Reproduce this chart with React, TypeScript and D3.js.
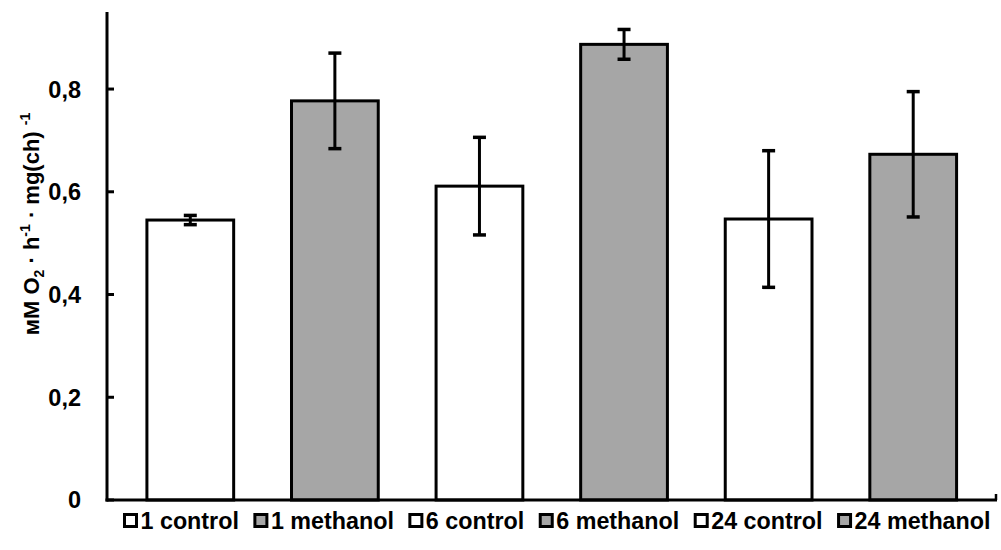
import React, { useEffect, useRef } from "react";
import * as d3 from "d3";

// values
const groups = ["1 control", "1 methanol", "6 control", "6 methanol", "24 control", "24 methanol"];
const rates = [0.545, 0.777, 0.611, 0.887, 0.547, 0.673];
const errors = [0.009, 0.093, 0.095, 0.029, 0.133, 0.122];
const fills = ["#ffffff", "#a6a6a6", "#ffffff", "#a6a6a6", "#ffffff", "#a6a6a6"];
const yTicks = [0, 0.2, 0.4, 0.6, 0.8];

const W = 1001, H = 550;

export default function App() {
  const ref = useRef<SVGSVGElement>(null);

  useEffect(() => {
    const svg = d3.select(ref.current);
    svg.selectAll("*").remove();

    const left = 107, right = 997, top = 12, bottom = 500;
    const font = "'Liberation Sans', Arial, sans-serif";

    const x = d3.scaleBand<string>().domain(groups).range([118, 985.5]).paddingInner(0.4).paddingOuter(0.2);
    const y = d3.scaleLinear().domain([0, 0.95]).range([bottom, top]);

    const g = svg.append("g");

    // bars
    g.selectAll("rect.bar")
      .data(groups)
      .join("rect")
      .attr("class", "bar")
      .attr("x", d => x(d)!)
      .attr("y", (d, i) => y(rates[i]))
      .attr("width", x.bandwidth())
      .attr("height", (d, i) => bottom - y(rates[i]))
      .attr("fill", (d, i) => fills[i])
      .attr("stroke", "#000")
      .attr("stroke-width", 3);

    // error bars
    const eb = g.selectAll("g.err").data(groups).join("g").attr("class", "err");
    const cx = (d: string) => x(d)! + x.bandwidth() / 2;
    eb.append("line")
      .attr("x1", cx).attr("x2", cx)
      .attr("y1", (d, i) => y(rates[i] + errors[i]))
      .attr("y2", (d, i) => y(rates[i] - errors[i]))
      .attr("stroke", "#000").attr("stroke-width", 3);
    [1, -1].forEach(s => {
      eb.append("line")
        .attr("x1", d => cx(d) - 6.5).attr("x2", d => cx(d) + 6.5)
        .attr("y1", (d, i) => y(rates[i] + s * errors[i]))
        .attr("y2", (d, i) => y(rates[i] + s * errors[i]))
        .attr("stroke", "#000").attr("stroke-width", 3.5);
    });

    // y axis
    const ya = svg.append("g");
    ya.append("line").attr("x1", left).attr("x2", left).attr("y1", top).attr("y2", bottom + 1.5)
      .attr("stroke", "#000").attr("stroke-width", 3);
    ya.selectAll("line.tick").data(yTicks).join("line").attr("class", "tick")
      .attr("x1", left).attr("x2", left + 7)
      .attr("y1", d => y(d)).attr("y2", d => y(d))
      .attr("stroke", "#000").attr("stroke-width", 3);
    ya.selectAll("text").data(yTicks).join("text")
      .attr("x", 81).attr("y", d => y(d))
      .attr("dy", "0.36em")
      .attr("text-anchor", "end")
      .attr("font-family", font).attr("font-weight", "bold").attr("font-size", 23.5)
      .text(d => d3.format(".1f")(d).replace(".", ",").replace(/^0,0$/, "0"));

    // x axis
    svg.append("line").attr("x1", left - 1.5).attr("x2", right).attr("y1", bottom).attr("y2", bottom)
      .attr("stroke", "#000").attr("stroke-width", 3);
    svg.append("line").attr("x1", right - 1).attr("x2", right - 1).attr("y1", bottom).attr("y2", bottom - 6)
      .attr("stroke", "#000").attr("stroke-width", 2.5);

    // y title
    const t = svg.append("text")
      .attr("transform", "translate(39,224) rotate(-90)")
      .attr("text-anchor", "middle")
      .attr("font-family", font).attr("font-weight", "bold").attr("font-size", 22);
    t.append("tspan").text("мМ O");
    t.append("tspan").attr("font-size", 14).attr("dy", 5).text("2");
    t.append("tspan").attr("dy", -5).text(" ·  h");
    t.append("tspan").attr("font-size", 14).attr("dy", -9).text("-1");
    t.append("tspan").attr("dy", 9).text(" · mg(ch) ");
    t.append("tspan").attr("font-size", 14).attr("dy", -9).text("-1");

    // legend
    const lg = svg.append("g");
    const items = lg.selectAll("g").data(groups).join("g");
    items.append("rect")
      .attr("x", 0).attr("y", -6.5).attr("width", 12).attr("height", 12)
      .attr("fill", (d, i) => fills[i]).attr("stroke", "#000").attr("stroke-width", 3);
    items.append("text")
      .attr("x", 16).attr("y", 0).attr("dy", "0.36em")
      .attr("font-family", font).attr("font-weight", "bold").attr("font-size", 23.3)
      .text(d => d);
    let cursor = 0;
    const gap = 16;
    items.each(function () {
      const node = this as SVGGElement;
      d3.select(node).attr("transform", `translate(${cursor},521)`);
      cursor += node.getBBox().width + gap;
    });
    const total = cursor - gap;
    lg.attr("transform", `translate(${557.5 - total / 2},0)`);
  }, []);

  return (
    <svg ref={ref} width={W} height={H} style={{ position: "absolute", left: 0, top: 0, background: "#fff" }} />
  );
}
